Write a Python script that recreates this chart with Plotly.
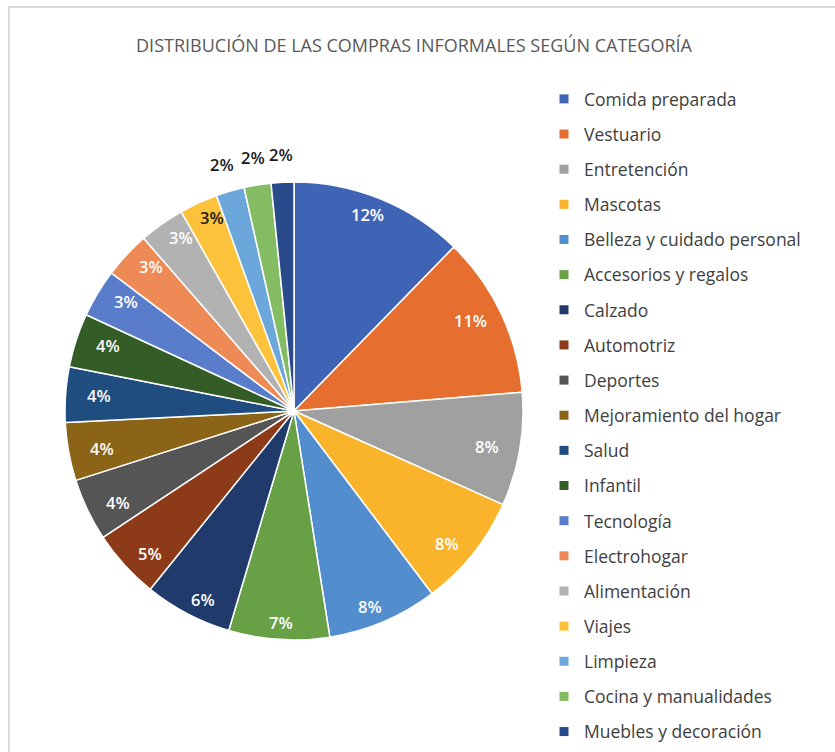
import math
import plotly.graph_objects as go

categories = ["Comida preparada", "Vestuario", "Entretención", "Mascotas",
              "Belleza y cuidado personal", "Accesorios y regalos", "Calzado",
              "Automotriz", "Deportes", "Mejoramiento del hogar", "Salud",
              "Infantil", "Tecnología", "Electrohogar", "Alimentación", "Viajes",
              "Limpieza", "Cocina y manualidades", "Muebles y decoración"]
values = [12.3, 11.4, 8.0, 8.0, 7.8, 7.1, 6.2, 4.9, 4.4, 4.1, 3.9, 3.8,
          3.4, 3.3, 3.2, 2.7, 2.0, 1.9, 1.6]
colors = ["#3F64B5", "#E66E2F", "#A0A0A0", "#F9B42C", "#528DCE", "#68A046",
          "#1F3A6B", "#8C3A18", "#555555", "#8B6417", "#1F4D80", "#345C27",
          "#5A7DCB", "#EE8A55", "#B2B2B2", "#FCC23B", "#6CA7DB", "#84BC63",
          "#294B8C"]
title = "DISTRIBUCIÓN DE LAS COMPRAS INFORMALES SEGÚN CATEGORÍA"

label_outside = [False] * 16 + [True] * 3
label_col = ["white"] * 15 + ["#1a1a1a"] * 4

FONT = "Open Sans"
W, H = 835, 752
# pie geometry (pixels)
CX, CY, R = 294, 411, 229
# label ellipse radii (inside / outside)
LIN = (0.88 * 222, 0.90 * 236)
LOUT = (1.12 * 229, 1.12 * 229)

fig = go.Figure()
fig.add_trace(go.Pie(
    labels=categories, values=values, sort=False, direction="clockwise",
    rotation=0,
    marker=dict(colors=colors, line=dict(color="white", width=1.5)),
    textinfo="none", showlegend=False, hoverinfo="label+percent",
    domain=dict(x=[(CX - R) / W, (CX + R) / W], y=[1 - (CY + R) / H, 1 - (CY - R) / H]),
))

for cat, col in zip(categories, colors):
    fig.add_trace(go.Scatter(
        x=[None], y=[None], mode="markers", name=cat, legendgroup=cat,
        marker=dict(symbol="square", size=9, color=col),
    ))

# percentage labels placed at each slice's mid-angle (derived from values)
total = sum(values)
annotations = []
cum = 0.0
for v, out, tc in zip(values, label_outside, label_col):
    mid = (cum + v / 2) / total * 2 * math.pi
    cum += v
    rx, ry = LOUT if out else LIN
    px = CX + rx * math.sin(mid)
    py = CY - ry * math.cos(mid)
    annotations.append(dict(
        x=px / W, y=1 - py / H, xref="paper", yref="paper",
        text=f"{round(v / total * 100)}%", showarrow=False,
        xanchor="center", yanchor="middle",
        font=dict(family=FONT, size=16.5, color=tc, weight=600),
    ))

fig.update_layout(
    width=W, height=H,
    margin=dict(l=0, r=0, t=0, b=0),
    paper_bgcolor="white", plot_bgcolor="white",
    title=dict(text=title, x=414 / W, xanchor="center", y=1 - 46 / H, yanchor="middle",
               font=dict(family=FONT, size=18, color="#595959")),
    xaxis=dict(visible=False), yaxis=dict(visible=False),
    legend=dict(x=544 / W, xanchor="left", y=1 - 81 / H, yanchor="top",
                font=dict(family=FONT, size=17.5, color="#404040"),
                tracegroupgap=9.4, itemwidth=30, bgcolor="rgba(0,0,0,0)"),
    annotations=annotations,
    shapes=[
        dict(type="line", xref="paper", yref="paper", x0=8 / W, x1=1, y0=1 - 7 / H, y1=1 - 7 / H,
             line=dict(color="#DADADA", width=2)),
        dict(type="line", xref="paper", yref="paper", x0=9 / W, x1=9 / W, y0=0, y1=1 - 7 / H,
             line=dict(color="#DADADA", width=2)),
    ],
)

fig.write_html("out.html", config={"displayModeBar": False},
               post_script="document.body.style.margin='0';document.body.style.overflow='hidden';")
